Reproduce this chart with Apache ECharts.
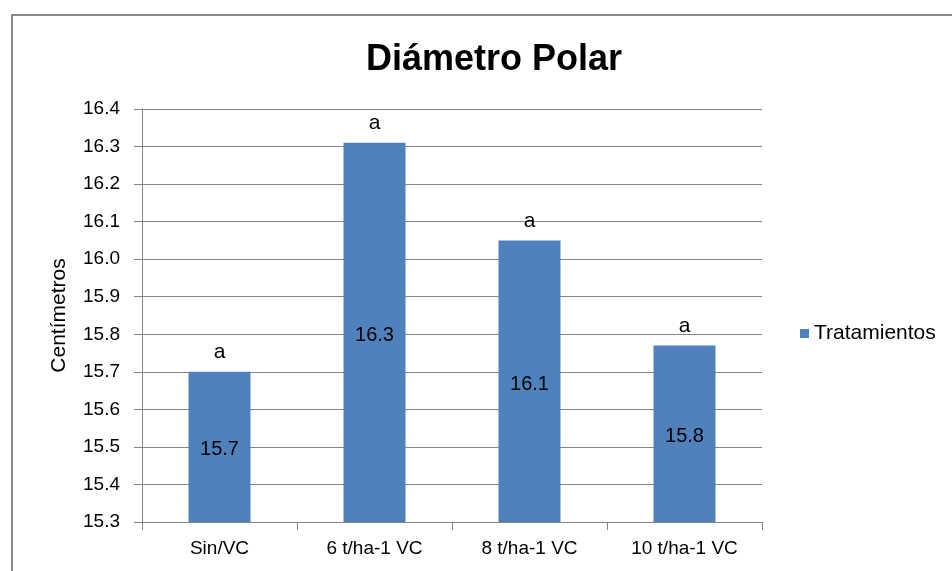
<!DOCTYPE html>
<html>
<head>
<meta charset="utf-8">
<script src="https://cdn.jsdelivr.net/npm/echarts@6/dist/echarts.min.js"></script>
<style>
html,body{margin:0;padding:0;background:#fff;}
#frame{position:absolute;left:11px;top:14px;width:960px;height:600px;border-left:2px solid #8a8a8a;border-top:2px solid #8a8a8a;box-sizing:border-box;}
#chart{position:absolute;left:0;top:0;width:952px;height:571px;}
</style>
</head>
<body>
<div id="frame"></div>
<div id="chart"></div>
<script>
const categories = ['Sin/VC', '6 t/ha-1 VC', '8 t/ha-1 VC', '10 t/ha-1 VC'];
const values = [15.70, 16.31, 16.05, 15.77];
const valueLabels = ['15.7', '16.3', '16.1', '15.8'];
const letters = ['a', 'a', 'a', 'a'];
const seriesName = 'Tratamientos';
const titleText = 'Diámetro Polar';
const yAxisName = 'Centímetros';

const FONT = 'Liberation Sans';
const chart = echarts.init(document.getElementById('chart'), null, {renderer: 'canvas'});
chart.setOption({
  backgroundColor: 'transparent',
  animation: false,
  title: {
    text: titleText,
    left: 361,
    top: 37,
    textStyle: {fontFamily: FONT, fontWeight: 'bold', fontSize: 36, color: '#000'}
  },
  legend: {
    data: [seriesName],
    orient: 'vertical',
    left: 795,
    top: 318,
    itemWidth: 9,
    itemHeight: 9,
    icon: 'rect',
    itemGap: 6,
    textStyle: {fontFamily: FONT, fontSize: 21, color: '#000', padding: [0, 0, 0, 0]}
  },
  grid: {left: 142, right: 190, top: 109, bottom: 49, containLabel: false},
  xAxis: {
    type: 'category',
    data: categories,
    boundaryGap: true,
    axisLine: {lineStyle: {color: '#868686', width: 1}},
    axisTick: {show: true, length: 8, lineStyle: {color: '#868686'}},
    axisLabel: {fontFamily: FONT, fontSize: 19, color: '#000', margin: 17}
  },
  yAxis: {
    type: 'value',
    min: 15.3,
    max: 16.4,
    interval: 0.1,
    name: yAxisName,
    nameLocation: 'middle',
    nameGap: 72,
    nameTextStyle: {fontFamily: FONT, fontSize: 21, color: '#000'},
    axisLine: {show: true, lineStyle: {color: '#868686', width: 1}},
    axisTick: {show: true, length: 8, lineStyle: {color: '#868686'}},
    axisLabel: {fontFamily: FONT, fontSize: 19, color: '#000', margin: 22,
      formatter: v => v.toFixed(1)},
    splitLine: {show: true, lineStyle: {color: '#868686', width: 1}}
  },
  series: [
    {
      name: seriesName,
      type: 'bar',
      data: values,
      barWidth: '40%',
      itemStyle: {color: '#4F81BD'},
      label: {
        show: true,
        position: 'inside',
        offset: [0, 3],
        fontFamily: FONT,
        fontSize: 20,
        color: '#000',
        formatter: p => valueLabels[p.dataIndex]
      }
    },
    {
      name: 'letters',
      type: 'bar',
      data: values,
      barWidth: '40%',
      barGap: '-100%',
      itemStyle: {color: 'rgba(0,0,0,0)'},
      silent: true,
      label: {
        show: true,
        position: 'top',
        distance: 9,
        fontFamily: FONT,
        fontSize: 21,
        color: '#000',
        formatter: p => letters[p.dataIndex]
      }
    }
  ]
});
</script>
</body>
</html>
